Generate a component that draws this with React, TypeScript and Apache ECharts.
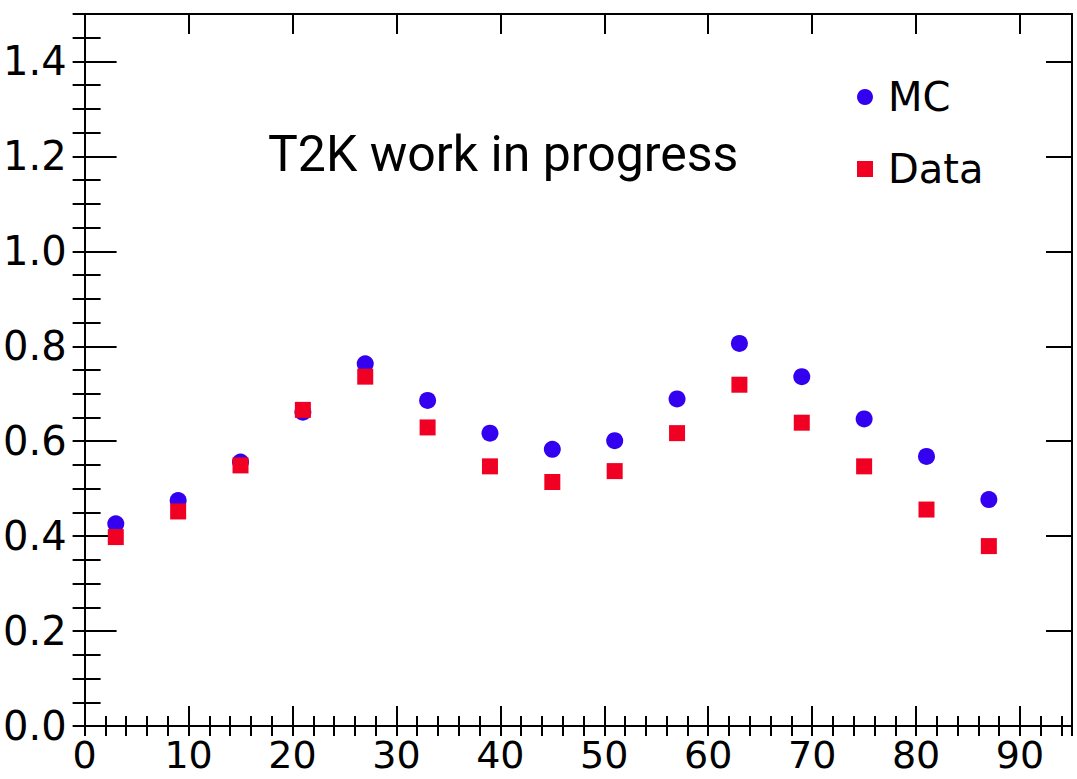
import React, { useEffect, useRef } from "react";
import * as echarts from "echarts";

const xValues = [3, 9, 15, 21, 27, 33, 39, 45, 51, 57, 63, 69, 75, 81, 87];
const mcValues = [0.426, 0.475, 0.556, 0.661, 0.763, 0.686, 0.617, 0.583, 0.601, 0.689, 0.806, 0.736, 0.647, 0.568, 0.477];
const dataValues = [0.398, 0.452, 0.549, 0.666, 0.736, 0.629, 0.547, 0.514, 0.537, 0.617, 0.719, 0.639, 0.547, 0.456, 0.379];
const xTickLabels = ["0", "10", "20", "30", "40", "50", "60", "70", "80", "90"];
const yTickLabels = ["0.0", "0.2", "0.4", "0.6", "0.8", "1.0", "1.2", "1.4"];
const seriesNames = ["MC", "Data"];
const titleText = "T2K work in progress";

const BLUE = "#3300f0";
const RED = "#f00022";
const LABEL_FONT = "DejaVu Sans";

export default function App() {
  const ref = useRef<HTMLDivElement>(null);
  useEffect(() => {
    if (!ref.current) return;
    const chart = echarts.init(ref.current, undefined, { renderer: "svg" });
    const line = { lineStyle: { color: "#000", width: 2 } };
    const xFmt = (v: number) => {
      const s = String(Math.round(v));
      return xTickLabels.includes(s) && Math.abs(v - Math.round(v)) < 1e-6 ? s : "";
    };
    const yFmt = (v: number) => {
      const s = v.toFixed(1);
      return yTickLabels.includes(s) && Math.abs(v * 5 - Math.round(v * 5)) < 1e-6 ? s : "";
    };
    const xBase = { type: "value", min: 0, max: 95, splitLine: { show: false } };
    const yBase = { type: "value", min: 0, max: 1.5, splitLine: { show: false } };
    chart.setOption({
      animation: false,
      backgroundColor: "#fff",
      grid: { left: 83, right: 5, top: 14, bottom: 53, containLabel: false },
      title: {
        text: titleText,
        left: 268,
        top: 129,
        padding: 0,
        textStyle: { fontFamily: "Roboto", fontSize: 50, fontWeight: "normal", color: "#000" },
      },
      legend: {
        orient: "vertical",
        left: 857,
        top: 77,
        padding: 0,
        itemGap: 32,
        itemWidth: 16,
        itemHeight: 16,
        data: [
          { name: seriesNames[0], icon: "circle" },
          { name: seriesNames[1], icon: "rect" },
        ],
        textStyle: { fontFamily: LABEL_FONT, fontSize: 40, color: "#000", padding: [0, 0, 0, 10] },
      },
      xAxis: [
        {
          ...xBase,
          position: "bottom",
          interval: 10,
          axisLine: { show: true, onZero: false, ...line },
          axisTick: { show: true, inside: true, length: 20, ...line },
          axisLabel: {
            show: true,
            margin: 14,
            lineHeight: 30,
            formatter: xFmt,
            fontFamily: LABEL_FONT,
            fontSize: 38,
            color: "#000",
          },
        },
        {
          ...xBase,
          position: "bottom",
          interval: 2,
          axisLine: { show: false },
          axisTick: { show: true, inside: true, length: 10, ...line },
          axisLabel: { show: false },
        },
        {
          ...xBase,
          position: "top",
          interval: 10,
          axisLine: { show: true, onZero: false, ...line },
          axisTick: { show: true, inside: true, length: 20, ...line },
          axisLabel: { show: false },
        },
        {
          ...xBase,
          position: "top",
          interval: 2,
          axisLine: { show: false },
          axisTick: { show: true, inside: true, length: 10, ...line },
          axisLabel: { show: false },
        },
      ],
      yAxis: [
        {
          ...yBase,
          position: "left",
          interval: 0.2,
          axisLine: { show: true, onZero: false, ...line },
          axisTick: { show: true, inside: true, length: 32, ...line },
          axisLabel: { show: true, margin: 18, formatter: yFmt, fontFamily: LABEL_FONT, fontSize: 40, color: "#000" },
        },
        {
          ...yBase,
          position: "left",
          interval: 0.05,
          axisLine: { show: false },
          axisTick: { show: true, inside: true, length: 16, ...line },
          axisLabel: { show: false },
        },
        {
          ...yBase,
          position: "right",
          interval: 0.2,
          axisLine: { show: true, onZero: false, ...line },
          axisTick: { show: true, inside: true, length: 26, ...line },
          axisLabel: { show: false },
        },
        {
          ...yBase,
          position: "right",
          interval: 0.05,
          axisLine: { show: false },
          axisTick: { show: true, inside: true, length: 12, ...line },
          axisLabel: { show: false },
        },
      ],
      series: [
        {
          name: seriesNames[0],
          type: "scatter",
          xAxisIndex: 0,
          yAxisIndex: 0,
          symbol: "circle",
          symbolSize: 17,
          itemStyle: { color: BLUE, opacity: 1 },
          data: xValues.map((x, i) => [x, mcValues[i]]),
          z: 3,
        },
        {
          name: seriesNames[1],
          type: "scatter",
          xAxisIndex: 0,
          yAxisIndex: 0,
          symbol: "rect",
          symbolSize: 16,
          itemStyle: { color: RED, opacity: 1 },
          data: xValues.map((x, i) => [x, dataValues[i]]),
          z: 4,
        },
      ],
    });
    return () => chart.dispose();
  }, []);
  return (
    <div
      ref={ref}
      style={{ position: "fixed", left: 0, top: 0, width: 1077, height: 779, background: "#fff" }}
    />
  );
}
